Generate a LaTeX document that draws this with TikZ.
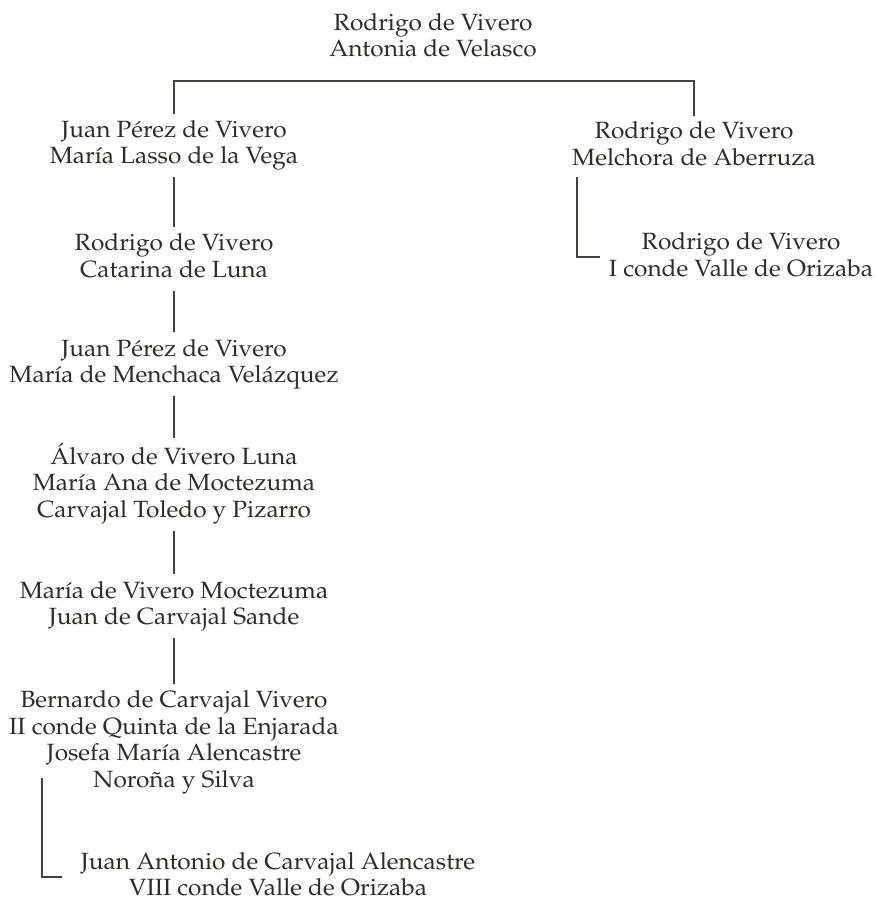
\documentclass[tikz,border=0pt]{standalone}
\usepackage[T1]{fontenc}
\usepackage{graphicx}
\renewcommand{\rmdefault}{ppl}
\definecolor{ink}{HTML}{2F2C24}
\definecolor{rule}{HTML}{45423A}
\newcommand{\pers}[1]{\scalebox{1.04}[1]{\begin{tabular}{@{}c@{}}#1\end{tabular}}}
\begin{document}
\begin{tikzpicture}[x=1pt,y=-1pt,
  person/.style={inner sep=0pt,text=ink,font=\fontsize{23.5}{26.5}\selectfont},
  link/.style={draw=rule,line width=1.8pt},
  fromS/.style={yshift=-5.5pt},
  toN/.style={yshift=5pt}]
\useasboundingbox[fill=white] (0,0) rectangle (877,901);
\node[person] (top) at (433,38) {\pers{Rodrigo de Vivero\\Antonia de Velasco}};
\node[person] (a1) at (174,145) {\pers{Juan P\'erez de Vivero\\Mar\'{\i}a Lasso de la Vega}};
\node[person] (a2) at (174,258.5) {\pers{Rodrigo de Vivero\\Catarina de Luna}};
\node[person] (a3) at (174,364) {\pers{Juan P\'erez de Vivero\\Mar\'{\i}a de Menchaca Vel\'azquez}};
\node[person] (a4) at (174,484) {\pers{\'Alvaro de Vivero Luna\\Mar\'{\i}a Ana de Moctezuma\\Carvajal Toledo y Pizarro}};
\node[person] (a5) at (174,606) {\pers{Mar\'{\i}a de Vivero Moctezuma\\Juan de Carvajal Sande}};
\node[person] (a6) at (174,742) {\pers{Bernardo de Carvajal Vivero\\II conde Quinta de la Enjarada\\Josefa Mar\'{\i}a Alencastre\\Noro\~na y Silva}};
\node[person] (a7) at (278,877) {\pers{Juan Antonio de Carvajal Alencastre\\VIII conde Valle de Orizaba}};
\node[person] (b1) at (694,146.5) {\pers{Rodrigo de Vivero\\Melchora de Aberruza}};
\node[person] (b2) at (741,257.5) {\pers{Rodrigo de Vivero\\I conde Valle de Orizaba}};
\coordinate (bar) at (0,81);
\draw[link] ([yshift=4pt]a1.north) -- (a1.north |- bar) -- (b1.north |- bar) -- ([yshift=4pt]b1.north);
\draw[link] ([fromS]a1.south) -- ([toN]a2.north);
\draw[link] ([fromS]a2.south) -- ([toN]a3.north);
\draw[link] ([fromS]a3.south) -- ([toN]a4.north);
\draw[link] ([fromS]a4.south) -- ([toN]a5.north);
\draw[link] ([fromS]a5.south) -- ([toN]a6.north);
\coordinate (k6) at (42,778);
\coordinate (k7) at (62,877);
\draw[link] (k6) |- (k7);
\coordinate (k1) at (577,177);
\coordinate (k2) at (600,257);
\draw[link] (k1) |- (k2);
\end{tikzpicture}
\end{document}
